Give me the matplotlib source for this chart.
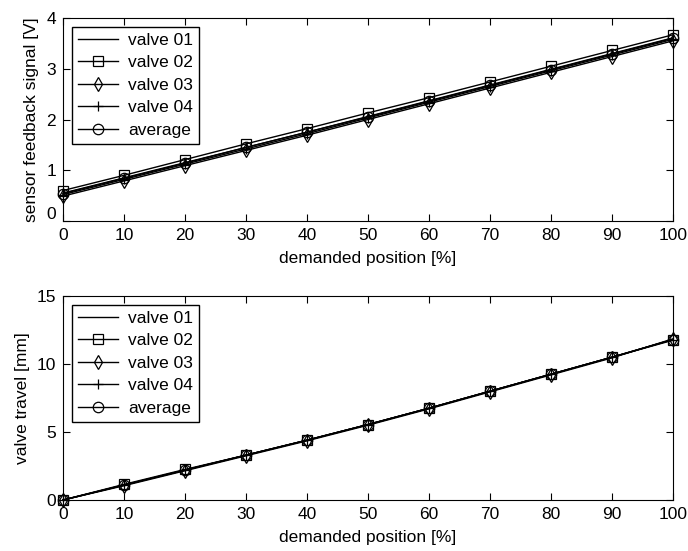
import numpy as np
import matplotlib
matplotlib.use("Agg")
import matplotlib.pyplot as plt
from matplotlib.transforms import ScaledTranslation

plt.rcParams['font.family'] = ['Liberation Sans', 'DejaVu Sans']
plt.rcParams['font.size'] = 12.5

position = [0, 10, 20, 30, 40, 50, 60, 70, 80, 90, 100]

# sensor feedback signal [V]
sig_v01 = [0.55, 0.85, 1.15, 1.45, 1.75, 2.06, 2.37, 2.68, 2.99, 3.30, 3.61]
sig_v02 = [0.60, 0.90, 1.21, 1.52, 1.82, 2.13, 2.43, 2.74, 3.05, 3.36, 3.67]
sig_v03 = [0.49, 0.79, 1.09, 1.39, 1.69, 2.00, 2.31, 2.62, 2.93, 3.24, 3.55]
sig_v04 = [0.52, 0.82, 1.12, 1.42, 1.72, 2.03, 2.34, 2.65, 2.96, 3.27, 3.58]
sig_avg = [0.54, 0.84, 1.14, 1.45, 1.75, 2.05, 2.36, 2.67, 2.98, 3.29, 3.60]

# valve travel [mm]
trv_v01 = [0.0, 1.1, 2.2, 3.3, 4.4, 5.55, 6.75, 8.0, 9.25, 10.5, 11.8]
trv_v02 = [0.0, 1.15, 2.25, 3.3, 4.4, 5.55, 6.75, 8.0, 9.25, 10.5, 11.75]
trv_v03 = [0.0, 1.05, 2.15, 3.25, 4.35, 5.5, 6.7, 7.95, 9.2, 10.45, 11.85]
trv_v04 = [0.0, 1.1, 2.2, 3.3, 4.4, 5.55, 6.75, 8.0, 9.25, 10.5, 11.8]
trv_avg = [0.0, 1.1, 2.2, 3.3, 4.4, 5.55, 6.75, 8.0, 9.25, 10.5, 11.8]

labels = ['valve 01', 'valve 02', 'valve 03', 'valve 04', 'average']
markers = [None, 's', 'd', '+', 'o']

fig = plt.figure(figsize=(6.88, 5.51), dpi=100)
ax1 = fig.add_axes([63/688, 1 - 221/551, 610/688, 203/551])
ax2 = fig.add_axes([63/688, 1 - 500/551, 610/688, 204/551])

def draw(ax, series, ymax, ylabel):
    for y, lab, m in zip(series, labels, markers):
        ax.plot(position, y, color='black', linewidth=1.0, marker=m,
                markersize=7.5, markerfacecolor='none', markeredgecolor='black',
                markeredgewidth=0.9, label=lab, clip_on=False)
    ax.set_xlim(0, 100)
    ax.set_ylim(0, ymax)
    ax.set_xticks(position)
    ax.tick_params(direction='in', top=True, right=True, length=5, pad=5)
    ax.set_xlabel('demanded position [%]', labelpad=6)
    ax.set_ylabel(ylabel, labelpad=5)
    leg = ax.legend(loc='upper left', fancybox=False,
                    edgecolor='black', framealpha=1, borderpad=0.35,
                    labelspacing=0.42, handlelength=2.3, handletextpad=0.6,
                    borderaxespad=0.5)
    leg.get_frame().set_linewidth(1.0)

draw(ax1, [sig_v01, sig_v02, sig_v03, sig_v04, sig_avg], 4, 'sensor feedback signal [V]')
ax1.set_yticks([0, 1, 2, 3, 4])
draw(ax2, [trv_v01, trv_v02, trv_v03, trv_v04, trv_avg], 15, 'valve travel [mm]')
ax2.set_yticks([0, 5, 10, 15])

# the "0" of the upper y axis sits a little above its tick
fig.canvas.draw()
lab0 = ax1.get_yticklabels()[0]
lab0.set_transform(lab0.get_transform() + ScaledTranslation(0, 8/100, fig.dpi_scale_trans))

fig.savefig('out.png', dpi=100)
